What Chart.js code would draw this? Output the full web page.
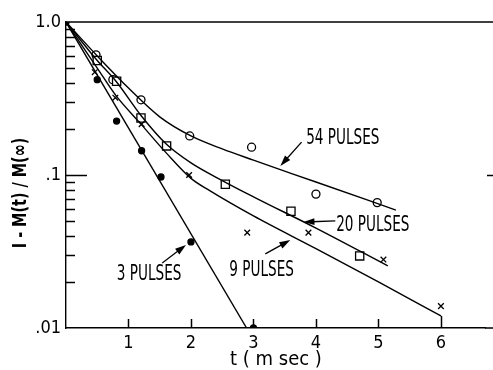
<!DOCTYPE html>
<html><head><meta charset="utf-8">
<script src="https://cdn.jsdelivr.net/npm/chart.js@4/dist/chart.umd.min.js"></script>
<style>html,body{margin:0;padding:0;background:#fff}canvas{display:block}</style>
</head><body>
<canvas id="c" width="493" height="370"></canvas>
<script>
// ---- measured data points (t in msec, 1 - M(t)/M(inf)) ----
const t3  = [0, 0.5, 0.81, 1.21, 1.52, 2.0, 3.0];
const m3  = [1.0, 0.42, 0.225, 0.144, 0.097, 0.0365, 0.01];
const t9  = [0.46, 0.79, 1.21, 1.97, 2.9, 3.88, 5.08, 6.0];
const m9  = [0.47, 0.32, 0.215, 0.1, 0.042, 0.042, 0.028, 0.0139];
const t20 = [0.5, 0.81, 1.2, 1.61, 2.55, 3.6, 4.7];
const m20 = [0.56, 0.41, 0.236, 0.155, 0.087, 0.058, 0.0296];
const t54 = [0.48, 0.75, 1.2, 1.98, 2.97, 4.0, 4.98];
const m54 = [0.61, 0.42, 0.31, 0.18, 0.152, 0.075, 0.066];
// ---- fitted curves ----
const fit3T  = [0, 2.89];
const fit3M  = [1, 0.01];
const fit9T  = [0, 0.5, 0.8, 1.2, 1.6, 2.0, 2.3, 3.0, 4.0, 5.0, 6.0];
const fit9M  = [1, 0.5, 0.33, 0.215, 0.14, 0.095, 0.079, 0.054, 0.033, 0.02, 0.012];
const fit20T = [0, 0.5, 0.8, 1.2, 1.6, 2.0, 2.5, 3.0, 4.0, 5.15];
const fit20M = [1, 0.56, 0.41, 0.245, 0.16, 0.12, 0.092, 0.072, 0.045, 0.0255];
const fit54T = [0, 0.5, 1.0, 1.5, 2.0, 2.5, 3.0, 4.0, 5.28];
const fit54M = [1, 0.6, 0.37, 0.24, 0.18, 0.148, 0.125, 0.09, 0.059];
// ---- ticks ----
const xTicks = [1, 2, 3, 4, 5, 6];
const yTicks = [0.01, 0.1, 1];
const yTickLabels = ['.01', '.1', '1.0'];
const yMinorFactors = [2, 3, 4, 5, 6, 7, 8, 9];
// ---- labels & arrows (data coordinates) ----
const noteText = ['54 PULSES', '20 PULSES', '9 PULSES', '3 PULSES'];
const noteT = [4.43, 4.91, 3.13, 1.33];
const noteM = [0.172, 0.0464, 0.0236, 0.0222];
const arrowFromT = [3.77, 4.31, 3.19, 1.54];
const arrowFromM = [0.164, 0.0501, 0.0305, 0.0266];
const arrowToT = [3.43, 3.80, 3.59, 1.92];
const arrowToM = [0.1145, 0.0493, 0.0376, 0.0349];

const FONT = "'Liberation Sans Narrow', 'DejaVu Sans Condensed', 'Liberation Sans', sans-serif";
const pts = (xs, ys) => xs.map((x, i) => ({x, y: ys[i]}));

const lineDs = (xs, ys) => ({
  data: pts(xs, ys), showLine: true, borderColor: '#000', borderWidth: 1.4,
  pointRadius: 0, cubicInterpolationMode: 'monotone', fill: false
});
const markDs = (xs, ys, style, r, bg) => ({
  data: pts(xs, ys), showLine: false, pointStyle: style, pointRadius: r,
  pointBorderColor: '#000', pointBackgroundColor: bg, pointBorderWidth: 1.3
});

function seg(ctx, x0, y0, x1, y1) {
  ctx.beginPath(); ctx.moveTo(x0, y0); ctx.lineTo(x1, y1); ctx.stroke();
}

const decor = {
  id: 'decor',
  afterDraw(chart) {
    const ctx = chart.ctx, xs = chart.scales.x, ys = chart.scales.y, a = chart.chartArea;
    const W = chart.width;
    ctx.save();
    ctx.strokeStyle = '#000'; ctx.fillStyle = '#000'; ctx.lineWidth = 1.5;
    // top border and bottom axis extension to the edge
    seg(ctx, a.left, a.top, W, a.top);
    seg(ctx, a.right - 1, a.bottom, W, a.bottom);
    // left minor/major ticks (inward)
    [0.01, 0.1].forEach(d => {
      yMinorFactors.forEach(k => {
        const y = Math.round(ys.getPixelForValue(k * d)) + 0.5;
        seg(ctx, a.left, y, a.left + 9, y);
      });
    });
    const yT = Math.round(ys.getPixelForValue(0.1)) + 0.5;
    seg(ctx, a.left, yT, a.left + 21, yT);
    seg(ctx, W - 6, yT, W, yT);
    // x ticks (inward); the last one reaches the end of the 9-pulse fit
    xTicks.forEach((v, i) => {
      const x = Math.round(xs.getPixelForValue(v)) + 0.5;
      const top = (v === fit9T[fit9T.length - 1]) ? ys.getPixelForValue(fit9M[fit9M.length - 1]) : a.bottom - 9;
      seg(ctx, x, a.bottom, x, top);
    });
    // arrows
    ctx.lineWidth = 1.3;
    for (let i = 0; i < arrowFromT.length; i++) {
      const x0 = xs.getPixelForValue(arrowFromT[i]), y0 = ys.getPixelForValue(arrowFromM[i]);
      const x1 = xs.getPixelForValue(arrowToT[i]), y1 = ys.getPixelForValue(arrowToM[i]);
      const ang = Math.atan2(y1 - y0, x1 - x0), c = Math.cos(ang), s = Math.sin(ang);
      seg(ctx, x0, y0, x1 - 8 * c, y1 - 8 * s);
      ctx.beginPath();
      ctx.moveTo(x1, y1);
      ctx.lineTo(x1 - 11 * c + 3.5 * s, y1 - 11 * s - 3.5 * c);
      ctx.lineTo(x1 - 11 * c - 3.5 * s, y1 - 11 * s + 3.5 * c);
      ctx.closePath(); ctx.fill();
    }
    // labels
    ctx.font = '21px ' + FONT;
    ctx.textAlign = 'center'; ctx.textBaseline = 'middle';
    for (let i = 0; i < noteText.length; i++) {
      const x = xs.getPixelForValue(noteT[i]), y = ys.getPixelForValue(noteM[i]);
      ctx.save(); ctx.translate(x, y); ctx.scale(0.72, 1);
      ctx.fillText(noteText[i], 0, 0); ctx.restore();
    }
    // y axis title
    ctx.save();
    ctx.translate(21, 193); ctx.rotate(-Math.PI / 2); ctx.scale(0.8, 1);
    ctx.font = 'bold 20px ' + FONT;
    ctx.fillText('I - M(t) / M(\u221E)', 0, 0);
    ctx.restore();
    ctx.restore();
  }
};

new Chart(document.getElementById('c'), {
  type: 'scatter',
  data: {
    datasets: [
      lineDs(fit3T, fit3M), lineDs(fit9T, fit9M), lineDs(fit20T, fit20M), lineDs(fit54T, fit54M),
      markDs(t3, m3, 'circle', 3, '#000'),
      markDs(t9, m9, 'crossRot', 4, '#000'),
      markDs(t20, m20, 'rect', 5.8, '#fff'),
      markDs(t54, m54, 'circle', 4, '#fff')
    ]
  },
  options: {
    responsive: false, animation: false,
    layout: { padding: { top: 22, right: 0, left: 0, bottom: 0 } },
    plugins: { legend: { display: false }, tooltip: { enabled: false } },
    scales: {
      x: {
        type: 'linear', min: 0, max: 6.72,
        grid: { display: false, drawTicks: false },
        border: { display: true, color: '#000', width: 1.4 },
        afterBuildTicks: s => { s.ticks = xTicks.map(v => ({value: v})); },
        afterFit: s => { s.height = 42; },
        ticks: { color: '#000', padding: 5, font: { family: FONT, size: 18 }, callback: v => String(v), maxRotation: 0 },
        title: { display: true, text: 't ( m sec )', color: '#000', padding: { top: 0, bottom: 0 },
                 font: { family: FONT, size: 20, lineHeight: 1 } }
      },
      y: {
        type: 'logarithmic', min: 0.01, max: 1,
        grid: { display: false, drawTicks: false },
        border: { display: true, color: '#000', width: 1.4 },
        afterBuildTicks: s => { s.ticks = yTicks.map(v => ({value: v})); },
        afterFit: s => { s.width = 66; },
        ticks: { color: '#000', padding: 5, font: { family: FONT, size: 18 },
                 callback: v => { const i = yTicks.indexOf(v); return i >= 0 ? yTickLabels[i] : ''; } }
      }
    }
  },
  plugins: [decor]
});
</script>
</body></html>
